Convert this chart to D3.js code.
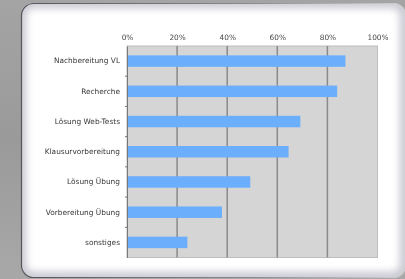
<!DOCTYPE html>
<html>
<head>
<meta charset="utf-8">
<script src="https://cdn.jsdelivr.net/npm/d3@7"></script>
<style>
  html, body { margin: 0; padding: 0; background: #9c9c9c; }
  svg { display: block; }
  .lbl { opacity: 0.99; }
</style>
</head>
<body>
<svg id="chart" width="405" height="279"></svg>
<script>
// Daten
var categories = ["Nachbereitung VL", "Recherche", "Lösung Web-Tests", "Klausurvorbereitung",
  "Lösung Übung", "Vorbereitung Übung", "sonstiges"];
var values = [0.872, 0.839, 0.692, 0.645, 0.492, 0.379, 0.241];
var tickValues = [0, 0.2, 0.4, 0.6, 0.8, 1.0];

var W = 405, H = 279;
var svg = d3.select("#chart");
var defs = svg.append("defs");

// hintergrund (gebuerstetes metall)
var bg = defs.append("linearGradient").attr("id", "bg")
  .attr("x1", 0).attr("y1", 0).attr("x2", 0).attr("y2", 1);
bg.append("stop").attr("offset", "0%").attr("stop-color", "#a4a4a4");
bg.append("stop").attr("offset", "50%").attr("stop-color", "#9a9a9a");
bg.append("stop").attr("offset", "100%").attr("stop-color", "#a8a8a8");
svg.append("rect").attr("width", W).attr("height", H).attr("fill", "url(#bg)");

// rahmen: links dunkel, rechts hell
var border = defs.append("linearGradient").attr("id", "border")
  .attr("x1", 0).attr("y1", 0).attr("x2", 1).attr("y2", 0);
border.append("stop").attr("offset", "0%").attr("stop-color", "#55555e");
border.append("stop").attr("offset", "60%").attr("stop-color", "#8a8a92");
border.append("stop").attr("offset", "100%").attr("stop-color", "#d0d0d4");

// panel
var panel = { x: 21, y: 3, w: 384, h: 274, r: 12 };
defs.append("clipPath").attr("id", "panelClip")
  .append("rect").attr("x", panel.x).attr("y", panel.y)
  .attr("width", panel.w).attr("height", panel.h).attr("rx", panel.r);
defs.append("filter").attr("id", "soft").attr("x", "-10%").attr("y", "-10%")
  .attr("width", "120%").attr("height", "120%")
  .append("feGaussianBlur").attr("stdDeviation", 4);

svg.append("rect").attr("x", panel.x).attr("y", panel.y)
  .attr("width", panel.w).attr("height", panel.h).attr("rx", panel.r)
  .attr("fill", "#ffffff");
// innen-schatten
svg.append("g").attr("clip-path", "url(#panelClip)")
  .append("rect").attr("x", panel.x).attr("y", panel.y)
  .attr("width", panel.w).attr("height", panel.h).attr("rx", panel.r)
  .attr("fill", "none").attr("stroke", "#b8b8c4").attr("stroke-width", 8)
  .attr("filter", "url(#soft)");
svg.append("rect").attr("x", panel.x + 0.5).attr("y", panel.y + 0.5)
  .attr("width", panel.w).attr("height", panel.h).attr("rx", panel.r)
  .attr("fill", "none").attr("stroke", "url(#border)").attr("stroke-width", 1.2);

// plot
var plot = { left: 127, right: 377.5, top: 46, bottom: 257.5 };

var x = d3.scaleLinear().domain([0, 1]).range([plot.left, plot.right]);
var y = d3.scaleBand().domain(categories).range([plot.top, plot.bottom]).paddingInner(0.62).paddingOuter(0.31);
var yb = d3.scaleBand().domain(categories).range([plot.top, plot.bottom]);

svg.append("rect").attr("x", plot.left).attr("y", plot.top)
  .attr("width", plot.right - plot.left).attr("height", plot.bottom - plot.top)
  .attr("fill", "#d5d5d5").attr("stroke", "#bdbdbd").attr("stroke-width", 1);

// gitter
svg.append("g").selectAll("line").data(tickValues.slice(1, 5)).enter()
  .append("line")
  .attr("x1", function(d) { return x(d); }).attr("x2", function(d) { return x(d); })
  .attr("y1", plot.top).attr("y2", plot.bottom)
  .attr("stroke", "#8a8a8a").attr("stroke-width", 1.5);

// balken
svg.append("g").selectAll("rect").data(values).enter()
  .append("rect")
  .attr("x", x(0))
  .attr("y", function(d, i) { return y(categories[i]); })
  .attr("width", function(d) { return x(d) - x(0); })
  .attr("height", y.bandwidth())
  .attr("fill", "#6aaefc");

// x-achse oben
var xAxis = svg.append("g").attr("class", "lbl").attr("transform", "translate(0," + (plot.top - 6) + ")")
  .call(d3.axisTop(x).tickValues(tickValues).tickFormat(d3.format(".0%")).tickSize(0).tickPadding(0));
xAxis.select(".domain").remove();
xAxis.selectAll("text").attr("font-family", "DejaVu Sans").attr("font-size", 7.4).attr("fill", "#444");

// y-achse
var yAxis = svg.append("g").attr("class", "lbl").attr("transform", "translate(" + plot.left + ",0)")
  .call(d3.axisLeft(yb).tickSize(0).tickPadding(7));
yAxis.select(".domain").attr("stroke", "#777").attr("stroke-width", 1);
yAxis.selectAll("text").attr("font-family", "DejaVu Sans").attr("font-size", 7.4).attr("fill", "#333");
// kleine striche zwischen den kategorien
svg.append("g").selectAll("line").data(categories.slice(1)).enter()
  .append("line")
  .attr("x1", plot.left - 2).attr("x2", plot.left)
  .attr("y1", function(d) { return yb(d); }).attr("y2", function(d) { return yb(d); })
  .attr("stroke", "#777").attr("stroke-width", 1);
</script>
</body>
</html>
